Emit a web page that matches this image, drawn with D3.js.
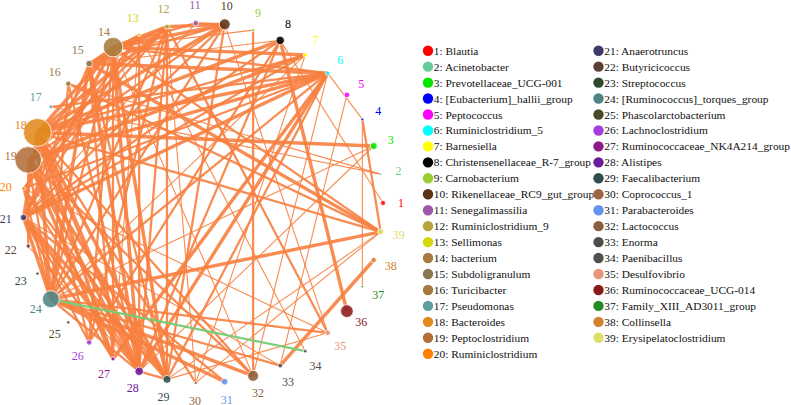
<!DOCTYPE html>
<html><head><meta charset="utf-8">
<script src="https://cdn.jsdelivr.net/npm/d3@7"></script>
<style>body{margin:0;background:#fff} text{font-family:"Liberation Serif","Times New Roman",Times,serif;}</style>
</head><body><svg id="c" width="791" height="405"></svg>
<script>
const nodeNames = ["Blautia","Acinetobacter","Prevotellaceae_UCG-001","[Eubacterium]_hallii_group","Peptococcus",
"Ruminiclostridium_5","Barnesiella","Christensenellaceae_R-7_group","Carnobacterium","Rikenellaceae_RC9_gut_group",
"Senegalimassilia","Ruminiclostridium_9","Sellimonas","bacterium","Subdoligranulum","Turicibacter","Pseudomonas",
"Bacteroides","Peptoclostridium","Ruminiclostridium","Anaerotruncus","Butyricicoccus","Streptococcus",
"[Ruminococcus]_torques_group","Phascolarctobacterium","Lachnoclostridium","Ruminococcaceae_NK4A214_group",
"Alistipes","Faecalibacterium","Coprococcus_1","Parabacteroides","Lactococcus","Enorma","Paenibacillus",
"Desulfovibrio","Ruminococcaceae_UCG-014","Family_XIII_AD3011_group","Collinsella","Erysipelatoclostridium"];
const nodeColors = ["#ff0000","#66cd9a","#00e600","#0000ff","#ff00ff","#00ffff","#ffff00","#000000","#9acd32","#5c3317",
"#9b59a6","#b5a43c","#d6d60c","#a67b3d","#8c7650","#a6793c","#5f9ea0","#e08a1e","#b26f3a","#ff7f00",
"#3d3a6b","#5c4033","#2e4a2e","#4f8585","#4a4a2a","#a23ee0","#8b1a8b","#6a1b9a","#2f4f4f","#9c6644",
"#6495ed","#8b5e3c","#4d4d4d","#505050","#e9967a","#8b1a1a","#228b22","#d2812e","#dede6a"];
const nodeAbundance = [6.3,1.4,12.3,2,7.8,4.8,4.8,17.6,2.9,30,7.8,6.3,2.9,96,10.9,7.3,3.2,196,177,3.2,
10.2,4.4,2.6,72,2.9,7.3,4,17.6,16,2.9,10.9,30,5.3,3.2,7.3,40,1.4,6.8,9];
// positive correlations: [source, target, strength]
const positiveEdges = [
[1,8,1],[2,16,1],[2,17,1],[3,18,3],[3,24,1],[3,28,1],[4,6,1],[4,37,1],[4,39,2],[5,33,1],
[6,14,2],[6,15,3],[6,17,2],[6,18,3],[6,19,3],[6,20,2],[6,21,3],[6,24,2],[6,27,3],[6,28,3],[6,29,2],[6,32,1],
[7,14,3],[7,18,2],[7,19,3],[7,21,2],[7,24,1],[7,30,1],
[8,36,3],[8,26,2],[8,28,2],[8,21,2],[8,18,3],[8,15,1],
[9,32,2],[9,14,1],
[10,11,2],[10,12,3],[10,14,3],[10,15,2],[10,29,2],[10,35,1],[10,19,2],[10,21,2],[10,18,3],
[11,21,1],[11,14,2],
[12,14,3],[12,15,2],[12,29,2],[12,35,2],[12,28,2],[12,26,2],[12,20,2],[12,18,3],[12,24,2],[12,19,2],
[13,34,1],[13,28,2],[13,21,2],[13,27,1],[13,20,2],[13,15,2],
[14,15,2],[14,28,3],[14,29,3],[14,27,2],[14,24,2],[14,21,3],[14,26,2],[14,39,2],[14,18,3],[14,19,2],[14,32,1],
[15,39,3],[15,28,3],[15,29,2],[15,24,3],[15,21,2],[15,27,2],
[16,28,2],[16,24,2],[16,39,2],
[18,21,3],[18,24,3],[18,28,4],[18,29,3],[18,27,3],[18,26,2],[18,39,2],[18,30,2],[18,32,2],
[19,28,3],[19,29,3],[19,24,2],[19,27,3],[19,22,2],[19,32,2],
[20,35,1],[20,28,2],[20,24,2],[20,29,2],
[21,28,3],[21,29,3],[21,24,3],[21,26,2],[21,27,2],[21,31,2],[21,33,1],
[22,28,1],
[24,39,3],[24,32,3],[24,31,3],[24,33,2],[24,35,2],[24,28,2],[24,10,2],
[28,29,2],[29,39,1],[29,35,1],[30,12,1],[30,39,1],[33,38,3]
];
// negative correlations
const negativeEdges = [[24,34,2]];

const svg = d3.select("#c");
svg.append("rect").attr("width",791).attr("height",405).attr("fill","#fff");
const cx = 203, cy = 203, R = 180, RL = 198;
const n = nodeNames.length;
const ang = d3.scaleLinear().domain([0, n]).range([0, 2*Math.PI]);
const rScale = d3.scaleSqrt().domain([0, 196]).range([0, 14]);
const wScale = d3.scaleLinear().domain([1, 4]).range([1.1, 4.6]);
const nodes = nodeNames.map((name,i)=>({id:i+1,name,color:nodeColors[i],ab:nodeAbundance[i],
  x: cx + R*Math.cos(ang(i)), y: cy - R*Math.sin(ang(i)),
  lx: cx + RL*Math.cos(ang(i)), ly: cy - RL*Math.sin(ang(i))}));

const gE = svg.append("g");
gE.selectAll("line.pos").data(positiveEdges).join("line")
  .attr("x1",d=>nodes[d[0]-1].x).attr("y1",d=>nodes[d[0]-1].y)
  .attr("x2",d=>nodes[d[1]-1].x).attr("y2",d=>nodes[d[1]-1].y)
  .attr("stroke","#f7803f").attr("stroke-opacity",0.9)
  .attr("stroke-width",d=>wScale(d[2]));
gE.selectAll("line.neg").data(negativeEdges).join("line")
  .attr("x1",d=>nodes[d[0]-1].x).attr("y1",d=>nodes[d[0]-1].y)
  .attr("x2",d=>nodes[d[1]-1].x).attr("y2",d=>nodes[d[1]-1].y)
  .attr("stroke","#74cc74").attr("stroke-opacity",0.95)
  .attr("stroke-width",d=>wScale(d[2]));

const gN = svg.append("g");
gN.selectAll("circle").data(nodes).join("circle")
  .attr("cx",d=>d.x).attr("cy",d=>d.y).attr("r",d=>rScale(d.ab))
  .attr("fill",d=>d.color).attr("fill-opacity",0.88)
  .attr("stroke","#fff").attr("stroke-width",0.8);
gN.selectAll("text").data(nodes).join("text")
  .attr("x",d=>d.lx).attr("y",d=>d.ly)
  .attr("text-anchor","middle").attr("dominant-baseline","central")
  .attr("font-size",12)
  .attr("fill",d=>d.color).text(d=>d.id);

// legend
const perCol = 20;
const ly = d3.scaleLinear().domain([0, 1]).range([50.7, 50.7+15.95]);
const colX = [428, 598.5];
const gL = svg.append("g");
const items = gL.selectAll("g").data(nodes).join("g")
  .attr("transform",(d,i)=>`translate(${colX[Math.floor(i/perCol)]},${ly(i%perCol)})`);
items.append("circle").attr("r",5.2).attr("fill",d=>d.color);
items.append("text").attr("x",5.8).attr("dominant-baseline","central")
  .attr("font-size",11.4)
  .attr("fill","#111").text(d=>`${d.id}: ${d.name}`);
</script></body></html>
